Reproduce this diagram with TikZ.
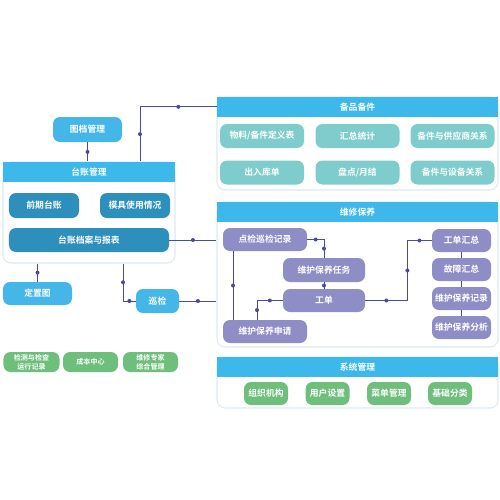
\documentclass[tikz,border=0pt]{standalone}
\usepackage{fontspec}
\setmainfont{Noto Sans CJK SC}[BoldFont={Noto Sans CJK SC Bold}]
\usetikzlibrary{calc}
\definecolor{HeadBlue}{HTML}{3CB8EB}
\definecolor{SkyBox}{HTML}{45B6E8}
\definecolor{DeepBox}{HTML}{2C8FBC}
\definecolor{TealBox}{HTML}{7ECDCC}
\definecolor{LilacBox}{HTML}{8F8DC6}
\definecolor{LeafBox}{HTML}{6FBF7C}
\definecolor{Wire}{HTML}{474C9E}
\definecolor{PanelEdge}{HTML}{DDEBF4}

\begin{document}
\begin{tikzpicture}[x=0.2mm,y=-0.2mm,
    font=\fontsize{5}{6}\selectfont\bfseries,
    panel/.style={draw=PanelEdge,line width=0.6pt,fill=white,rounded corners=1.6mm,inner sep=0},
    panelhead/.style={fill=HeadBlue,text=white,inner sep=0,minimum height=4mm,anchor=north},
    box/.style={rounded corners=1.4mm,text=white,inner sep=0,align=center,minimum height=4.6mm},
    wire/.style={Wire,line width=0.45pt},
    dot/.style={circle,fill=Wire,inner sep=0,minimum size=0.8mm}]
  \fill[white] (0,0) rectangle (500,500);
  \useasboundingbox (0,0) rectangle (500,500);

  % panels
  \node[panel,minimum width=34.4mm,minimum height=20.2mm] (tzpanel) at (89,212.5) {};
  \node[panelhead,minimum width=34.4mm] (tzhead) at (tzpanel.north) {台账管理};
  \node[panel,minimum width=56.2mm,minimum height=18.6mm] (bppanel) at (357.5,143.5) {};
  \node[panelhead,minimum width=56.2mm] (bphead) at (bppanel.north) {备品备件};
  \node[panel,minimum width=56.2mm,minimum height=29mm] (mtpanel) at (357.5,274.5) {};
  \node[panelhead,minimum width=56.2mm] (mthead) at (mtpanel.north) {维修保养};
  \node[panel,minimum width=56.2mm,minimum height=10.2mm] (xtpanel) at (357.5,382.5) {};
  \node[panelhead,minimum width=56.2mm] (xthead) at (xtpanel.north) {系统管理};

  % left side
  \node[box,fill=SkyBox,minimum width=13.8mm,minimum height=5mm] (tudang) at (87.5,129.5) {图档管理};
  \node[box,fill=DeepBox,minimum width=14mm,minimum height=5mm] (qianqi) at (44,205.5) {前期台账};
  \node[box,fill=DeepBox,minimum width=14mm,minimum height=5mm] (muju) at (135,205.5) {模具使用情况};
  \node[box,fill=DeepBox,minimum width=32mm,minimum height=4.8mm] (dangan) at (89,240) {台账档案与报表};
  \node[box,fill=SkyBox,minimum width=13.8mm] (dingzhi) at (37.5,293.5) {定置图};
  \node[box,fill=SkyBox,minimum width=8.6mm,minimum height=4.8mm] (xunjian) at (157.5,301) {巡检};

  \node[box,fill=LeafBox,minimum width=11.2mm,minimum height=4mm,font=\fontsize{4}{5}\selectfont\bfseries] (jiance) at (31.5,362) {检测与检查\\运行记录};
  \node[box,fill=LeafBox,minimum width=11mm,minimum height=4mm,font=\fontsize{4}{5}\selectfont\bfseries] (chengben) at (90.5,362) {成本中心};
  \node[box,fill=LeafBox,minimum width=11mm,minimum height=4mm,font=\fontsize{4}{5}\selectfont\bfseries] (zhuanjia) at (150.5,362) {维修专家\\综合管理};

  % spare parts
  \node[box,fill=TealBox,minimum width=16.8mm,minimum height=4.8mm] (wuliao) at (262,136) {物料/备件定义表};
  \node[box,fill=TealBox,minimum width=16.8mm,minimum height=4.8mm] (huizong) at (357.5,136) {汇总统计};
  \node[box,fill=TealBox,minimum width=16.8mm,minimum height=4.8mm] (gongying) at (452.5,136) {备件与供应商关系};
  \node[box,fill=TealBox,minimum width=16.8mm,minimum height=4.8mm] (churu) at (262,172.5) {出入库单};
  \node[box,fill=TealBox,minimum width=16.8mm,minimum height=4.8mm] (pandian) at (357.5,172.5) {盘点/月结};
  \node[box,fill=TealBox,minimum width=16.8mm,minimum height=4.8mm] (shebei) at (452.5,172.5) {备件与设备关系};

  % maintenance
  \node[box,fill=LilacBox,minimum width=16.8mm] (dianjian) at (265,239.5) {点检巡检记录};
  \node[box,fill=LilacBox,minimum width=16.4mm,minimum height=4.8mm] (renwu) at (324,270) {维护保养任务};
  \node[box,fill=LilacBox,minimum width=16.4mm] (gongdan) at (324,300.5) {工单};
  \node[box,fill=LilacBox,minimum width=16.8mm] (shenqing) at (265,331.5) {维护保养申请};
  \node[box,fill=LilacBox,minimum width=11.8mm] (gdhz) at (461.5,240.5) {工单汇总};
  \node[box,fill=LilacBox,minimum width=11.8mm] (gzhz) at (461.5,269.5) {故障汇总};
  \node[box,fill=LilacBox,minimum width=11.8mm] (byjl) at (461.5,298.5) {维护保养记录};
  \node[box,fill=LilacBox,minimum width=11.8mm] (byfx) at (461.5,327.5) {维护保养分析};

  % system
  \node[box,fill=LeafBox,minimum width=8.8mm] (zuzhi) at (266,393.5) {组织机构};
  \node[box,fill=LeafBox,minimum width=8.8mm] (yonghu) at (327.5,393.5) {用户设置};
  \node[box,fill=LeafBox,minimum width=8.8mm] (caidan) at (389,393.5) {菜单管理};
  \node[box,fill=LeafBox,minimum width=8.8mm] (jichu) at (450,393.5) {基础分类};

  % connectors
  \draw[wire] (tudang.south) -- (tudang.south |- tzhead.north) node[dot,midway] {};
  \draw[wire] (tzhead.north) ++(51,0) |- (bphead.west) node[dot,pos=0.25] {} node[dot,pos=0.75] {};
  \draw[wire] (dangan.east) -- (dangan.east -| mtpanel.west) node[dot,midway] {};
  \draw[wire] (dingzhi.north |- tzpanel.south) -- (dingzhi.north) node[dot,midway] {};
  \draw[wire] (tzpanel.south) ++(34,0) |- (xunjian.west) node[dot,pos=0.25] {} node[dot,pos=0.75] {};
  \draw[wire] (xunjian.east) -- (xunjian.east -| mtpanel.west) node[dot,midway] {};

  \draw[wire] (dianjian.east) -| (renwu.north) node[dot,pos=0.25] {} node[dot,pos=0.75] {};
  \draw[wire] (renwu.south) -- (gongdan.north) node[dot,midway] {};
  \draw[wire] (gongdan.west) -| ($(shenqing.north)+(-8,0)$) node[dot,pos=0.25] {} node[dot,pos=0.75] {};
  \draw[wire] ($(dianjian.south)+(-32,0)$) -- ($(shenqing.north)+(-32,0)$) node[dot,midway] {};
  \draw[wire] (gongdan.east) -- ++(42,0) node[dot,midway] {}
    |- (gdhz.west) node[dot,pos=0.25] {} node[dot,pos=0.75] {};
  \draw[wire] (gdhz) -- (gzhz) (gzhz) -- (byjl) (byjl) -- (byfx);
\end{tikzpicture}
\end{document}
